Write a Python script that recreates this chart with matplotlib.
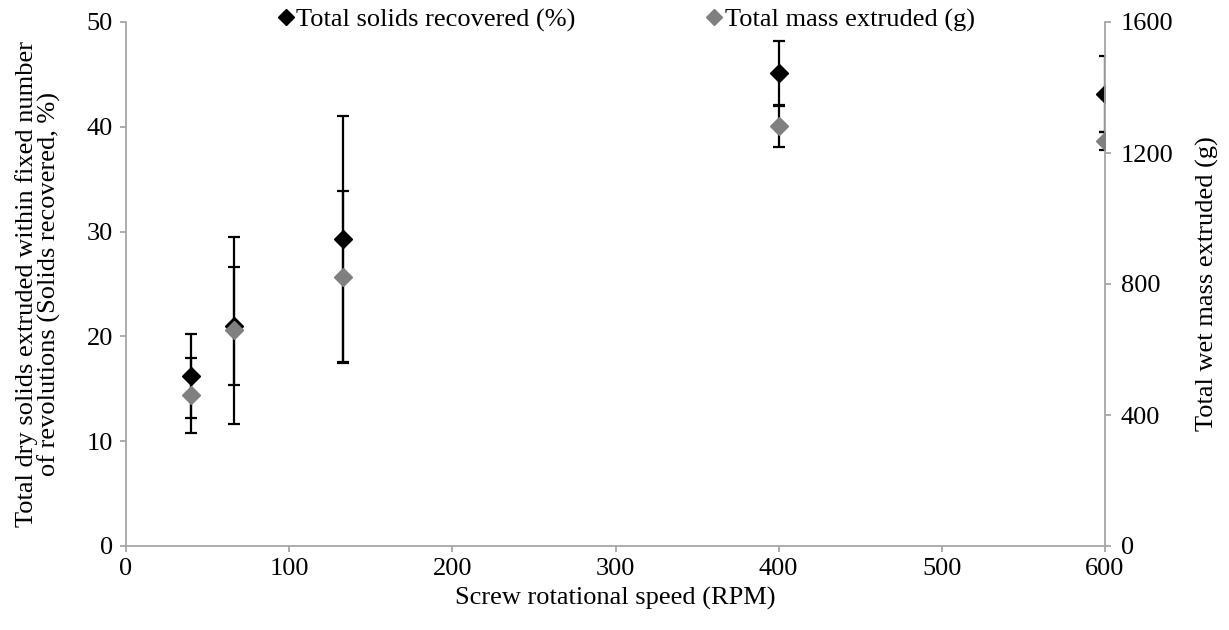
import matplotlib
matplotlib.use("Agg")
import matplotlib.pyplot as plt
from matplotlib.lines import Line2D

plt.rcParams['font.family'] = ['Liberation Serif', 'DejaVu Serif']
plt.rcParams['font.size'] = 19

# Data
rpm = [40, 66, 133, 400, 600]
solids_pct = [16.2, 21.0, 29.3, 45.1, 43.15]
solids_err = [4.0, 5.6, 11.7, 3.1, 3.65]
mass_g = [460, 659, 822, 1282, 1237]
mass_err = [115, 286, 262, 64, 27]

x_ticks = [0, 100, 200, 300, 400, 500, 600]
left_ticks = [0, 10, 20, 30, 40, 50]
right_ticks = [0, 400, 800, 1200, 1600]

spine_c = '#a6a6a6'
gray_c = '#808080'
fs = 19

fig = plt.figure(figsize=(12.29, 6.30), dpi=100)
ax = fig.add_axes([126/1229, 1-546/630, (1105-126)/1229, (546-22)/630])
ax2 = ax.twinx()

ax.errorbar(rpm, solids_pct, yerr=solids_err, fmt='none', ecolor='black',
            elinewidth=1.6, capsize=4.5, capthick=1.6, zorder=2)
ax.plot(rpm, solids_pct, linestyle='none', marker='D', markersize=9.5,
        color='black', zorder=3)

ax2.errorbar(rpm, mass_g, yerr=mass_err, fmt='none', ecolor='black',
             elinewidth=1.6, capsize=4.5, capthick=1.6, zorder=2)
ax2.plot(rpm, mass_g, linestyle='none', marker='D', markersize=9.5,
         color=gray_c, zorder=3)

ax.set_xlim(0, 600)
ax.set_ylim(0, 50)
ax2.set_ylim(0, 1600)
ax.set_xticks(x_ticks)
ax.set_yticks(left_ticks)
ax2.set_yticks(right_ticks)

for a in (ax, ax2):
    a.spines['top'].set_visible(False)
    for s in ('left', 'right', 'bottom'):
        a.spines[s].set_color(spine_c)
        a.spines[s].set_linewidth(1.3)
    a.tick_params(axis='both', direction='out', length=4.5, width=1.3,
                  color=spine_c, labelsize=fs, pad=5)
ax.spines['right'].set_visible(False)
ax2.spines['left'].set_visible(False)
ax2.spines['bottom'].set_visible(False)
ax.tick_params(axis='x', pad=4)
ax2.tick_params(axis='y', pad=7)

ax.set_xlabel('Screw rotational speed (RPM)', fontsize=fs, labelpad=5)
ax.set_ylabel('Total dry solids extruded within fixed number\nof revolutions (Solids recovered, %)',
              fontsize=fs, labelpad=18, linespacing=1.0)
ax2.set_ylabel('Total wet mass extruded (g)', fontsize=fs, labelpad=16)

handles = [Line2D([], [], linestyle='none', marker='D', color='black', markersize=8),
           Line2D([], [], linestyle='none', marker='D', color=gray_c, markersize=8)]
fig.legend(handles, ['Total solids recovered (%)', 'Total mass extruded (g)'],
           loc='center', bbox_to_anchor=(627/1229, 1-20/630), ncol=2,
           frameon=False, fontsize=fs, handlelength=0.5, handletextpad=0.15,
           columnspacing=5.0, borderpad=0)

fig.savefig('out.png', dpi=100)
